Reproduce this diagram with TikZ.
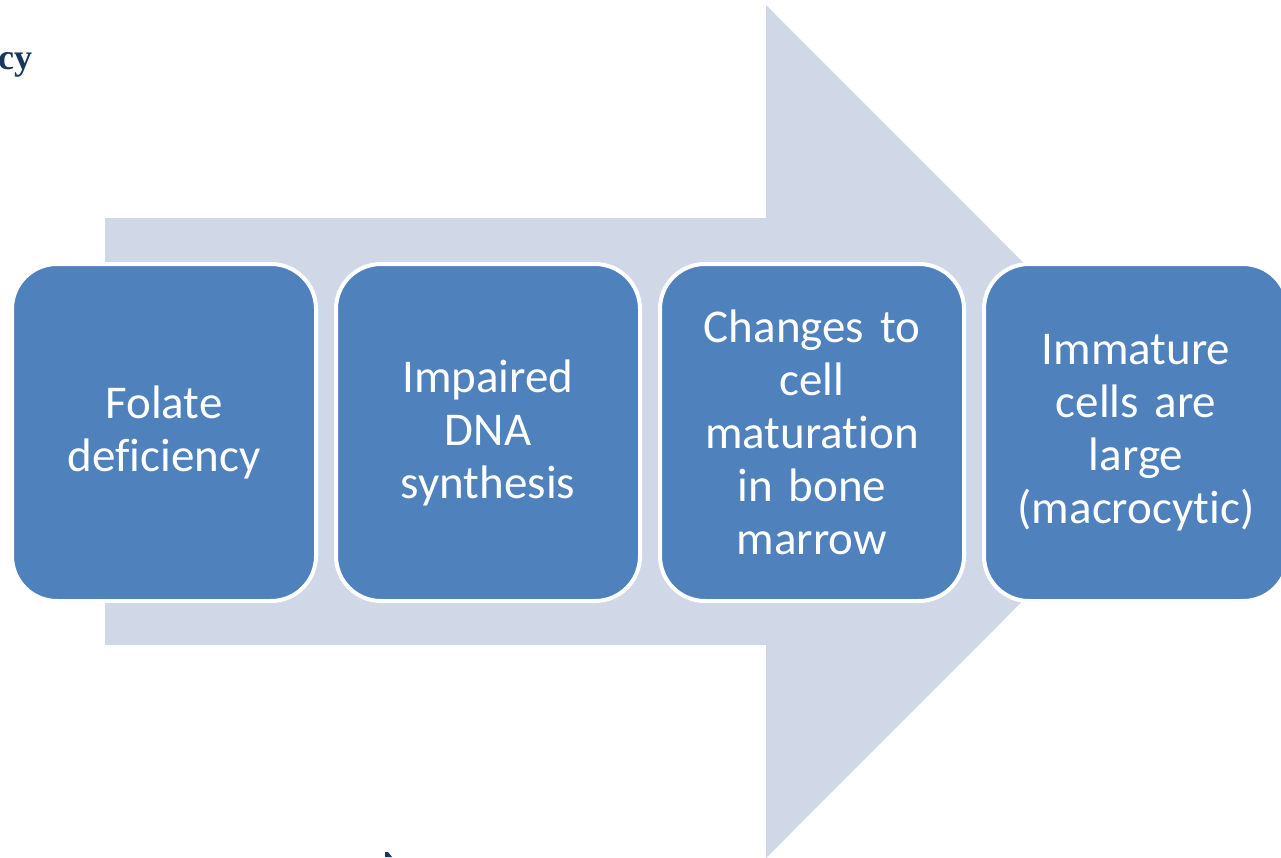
\documentclass[tikz,border=0pt]{standalone}
\usepackage{fontspec}
\setsansfont{Carlito}[Ligatures=NoCommon]
\newfontfamily\titlefont{Liberation Serif}
\usetikzlibrary{positioning}
\definecolor{arrowgrey}{HTML}{D0D8E8}
\definecolor{stepblue}{HTML}{4F81BD}
\definecolor{titlenavy}{HTML}{17375E}

\begin{document}
\begin{tikzpicture}[
    x=1pt, y=-1pt,
    node distance=16pt,
    stepbox/.style={draw=white, fill=stepblue, line width=4pt, rounded corners=45pt,
      minimum width=304pt, minimum height=337pt, inner sep=0pt, text width=296pt,
      align=center, text=white, font=\sffamily\fontsize{47}{53}\selectfont},
  ]
    \useasboundingbox (0,0) rectangle (1281,857);
    % big background arrow
    \fill[arrowgrey] (105,218) -- (766,218) -- (766,5) -- (1192,431.5)
      -- (766,858) -- (766,645) -- (105,645) -- cycle;
    % title fragment
    \node[anchor=base west, inner sep=0pt, text=titlenavy, font=\titlefont\bfseries\fontsize{36}{42}\selectfont] (title) at (-2,69) {cy};
    % steps
    \node[stepbox] (s1) at (164,432.5) {Folate\\deficiency};
    \node[stepbox, right=of s1] (s2) {Impaired\\DNA\\synthesis};
    \node[stepbox, right=of s2] (s3) {Changes to\\cell\\maturation\\in bone\\marrow};
    \node[stepbox, right=of s3] (s4) {Immature\\cells are\\large\\(macrocytic)};
    % cursor fragment
    \fill[titlenavy] (385,852) -- (388,852) -- (392,857) -- (385,857) -- cycle;
  \end{tikzpicture}
\end{document}
